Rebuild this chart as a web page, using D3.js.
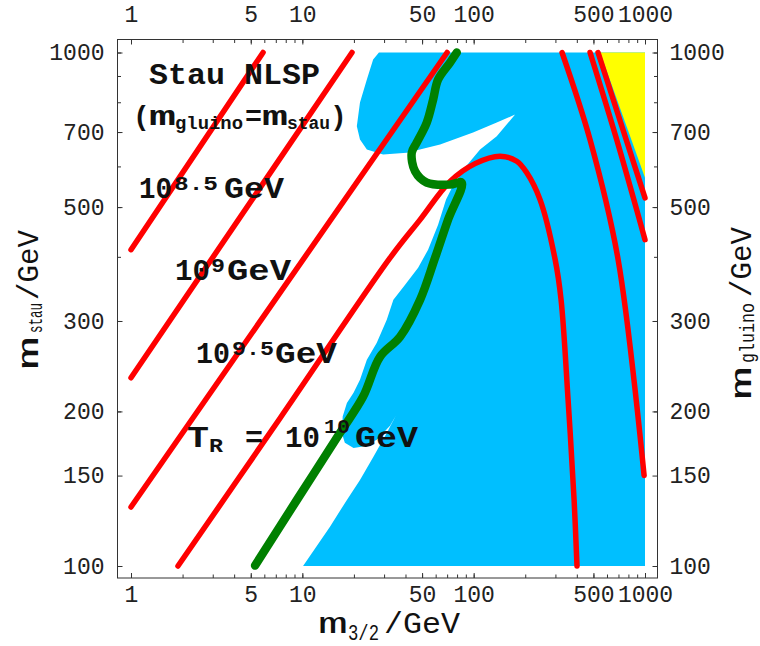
<!DOCTYPE html>
<html>
<head>
<meta charset="utf-8">
<script src="https://cdn.jsdelivr.net/npm/d3@7/dist/d3.min.js"></script>
<style>
body{margin:0;background:#fff;}
text{font-family:"Liberation Mono","Courier New",monospace;fill:#111;}
</style>
</head>
<body>
<script>
// tick labels
var xLabels = [1,5,10,50,100,500,1000];
var yLabels = [100,150,200,300,500,700,1000];

// shaded (cyan) region, [m3/2, mstau] in GeV
var cyanRegion = [
	[28.0,1000],[1000,1000],[1000,100],[10.1,100],
	[14.5,119.3],[18.2,134.5],[21.7,147.1],[26.0,163.3],[31.1,181.6],[35.1,196.1],
	[32.5,187.5],[27.2,176.1],[22.6,170.8],[19.9,169.8],[17.7,173.7],[17.0,181.6],
	[17.2,195.4],[18.2,207.8],[19.9,217.4],[21.7,230.5],[23.8,252.1],[27.2,272.1],
	[31.1,301.8],[34.0,330.1],[39.8,353],[47.4,381],[54.2,413],[62.0,462],[69.0,517],
	[74.8,545.7],[87.1,591.5],[109,647],[136.4,686.9],[174.5,757],
	[136.4,730.4],[99.2,698.3],[63.7,661.7],[40.7,637.6],[29.6,632.6],[23.8,647],
	[21.7,676.8],[20.8,718.3],[21.7,798.8],[23.8,886],[25.9,969]
];
// yellow corner
var yellowRegion = [[547,1000],[1000,1000],[1000,570]];

// reheating temperature contours (red)
var tr85 = [[1,413],[5.9,1000]];
var tr9 = [[1,232.6],[19.5,1000]];
var tr95 = [[1,130.3],[70,1000]];
var tr10 = [[1.88,100],[7.41,194],[32.5,398],[48.7,472.6],[72.8,561],[101.9,607.5],
	[142.6,628],[178.5,614],[204.2,583],[244,517],[299,395],[323.7,330],[355.7,210.7],
	[385.6,134.5],[401,100]];
var trR1 = [[328,1000],[478,676],[697,395],[988,150]];
var trR2 = [[478,1000],[684,676],[1000,432]];
var trR3 = [[532,1000],[1000,521]];

// green boundary
var greenLine = [[5.30,100.2],[9.30,134.5],[16.6,181.7],[22.6,213.5],[28.4,255.5],
	[37.2,279.5],[48.7,330],[59.5,398],[70.9,472.6],[85.2,558],[72.8,553],[53.2,558],
	[45.5,587],[43.5,638],[46.5,667.6],[53.2,730],[58.0,809.8],[62.0,886],[72.8,956],[79.7,1000]];

var svg = d3.select("body").append("svg")
	.attr("width",760)
	.attr("height",646);

var x = d3.scaleLog().domain([1,1000]).range([131,645]);
var y = d3.scaleLog().domain([100,1000]).range([566,52.5]);

var line = d3.line()
	.x(function(d){return x(d[0]);})
	.y(function(d){return y(d[1]);});
var smooth = d3.line()
	.x(function(d){return x(d[0]);})
	.y(function(d){return y(d[1]);})
	.curve(d3.curveCatmullRom.alpha(0.5));

svg.append("path").attr("d",line(cyanRegion)+"Z").attr("fill","#00bfff");
svg.append("path").attr("d",line(yellowRegion)+"Z").attr("fill","#ffff00");

[tr85,tr9,tr95,tr10,trR1,trR2,trR3].forEach(function(c){
	svg.append("path")
		.attr("d",smooth(c))
		.attr("fill","none")
		.attr("stroke","#ff0000")
		.attr("stroke-width",5.5)
		.attr("stroke-linecap","round")
		.attr("stroke-linejoin","round");
});

svg.append("path")
	.attr("d",smooth(greenLine))
	.attr("fill","none")
	.attr("stroke","#008000")
	.attr("stroke-width",8.5)
	.attr("stroke-linecap","round")
	.attr("stroke-linejoin","round");

// frame
svg.append("rect")
	.attr("x",117.5).attr("y",39.5)
	.attr("width",540).attr("height",538.5)
	.attr("fill","none").attr("stroke","#333");

var fmt = d3.format("d");
function styleAxis(g){
	g.select(".domain").remove();
	g.selectAll("line").attr("stroke","#333");
	g.selectAll("text").style("fill","#222");
	g.attr("font-family",null).attr("font-size",23);
}

// minor ticks
var minorX = x.ticks(), minorY = y.ticks();
var pos = [
	[d3.axisBottom,"translate(0,578)",x,minorX],
	[d3.axisTop,"translate(0,39.5)",x,minorX],
	[d3.axisLeft,"translate(117.5,0)",y,minorY],
	[d3.axisRight,"translate(657.5,0)",y,minorY]
];
pos.forEach(function(p){
	svg.append("g").attr("transform",p[1])
		.call(p[0](p[2]).tickValues(p[3]).tickFormat("").tickSize(-3.5))
		.call(styleAxis);
});

svg.append("g").attr("transform","translate(0,578)")
	.call(d3.axisBottom(x).tickValues(xLabels).tickFormat(fmt).tickSize(-5).tickPadding(8))
	.call(styleAxis);
svg.append("g").attr("transform","translate(0,39.5)")
	.call(d3.axisTop(x).tickValues(xLabels).tickFormat(fmt).tickSize(-5).tickPadding(18))
	.call(styleAxis);
svg.append("g").attr("transform","translate(117.5,0)")
	.call(d3.axisLeft(y).tickValues(yLabels).tickFormat(fmt).tickSize(-5).tickPadding(13))
	.call(styleAxis);
svg.append("g").attr("transform","translate(657.5,0)")
	.call(d3.axisRight(y).tickValues(yLabels).tickFormat(fmt).tickSize(-5).tickPadding(12))
	.call(styleAxis);

// one piece of text, optionally stretched to a width
function seg(parent, x0, base, str, size, bold, len){
	var t = parent.append("text")
		.attr("x",x0).attr("y",base)
		.attr("font-size",size)
		.attr("font-weight",bold ? "bold" : "normal")
		.text(str);
	if(len) t.attr("textLength",len).attr("lengthAdjust","spacingAndGlyphs");
	return t;
}

// annotations
seg(svg,149,84,"Stau NLSP",30,true,171);

seg(svg,133,125,"(",28,true);
seg(svg,149,125,"m",28,true,27);
seg(svg,175,129,"gluino",19,true,68);
seg(svg,245,125,"=",28,true,17);
seg(svg,262,125,"m",28,true,26);
seg(svg,287,129,"stau",19,true,43);
seg(svg,330,125,")",28,true);

seg(svg,139,198,"10",30,true,33);
seg(svg,174,190,"8.5",21,true,44);
seg(svg,224,198,"GeV",30,true,60);

seg(svg,175,280,"10",30,true,35);
seg(svg,211,272,"9",21,true,14);
seg(svg,227,280,"GeV",30,true,64);

seg(svg,196,363,"10",30,true,34);
seg(svg,232,355,"9.5",21,true,42);
seg(svg,275,363,"GeV",30,true,62);

seg(svg,187,447,"T",30,true,22);
seg(svg,209,452,"R",21,true,14);
seg(svg,245,447,"=",30,true,18);
seg(svg,285,447,"10",30,true,35);
seg(svg,324,433,"10",21,true,26);
seg(svg,355,447,"GeV",30,true,63);

// axis titles
seg(svg,318,633,"m",30,false,30);
seg(svg,348,640,"3/2",22,false,31);
seg(svg,384,633,"/GeV",30,false,76);

var lt = svg.append("g").attr("transform","translate(38,370) rotate(-90)");
seg(lt,0,0,"m",30,false,34);
seg(lt,37,4,"stau",20,false,30);
seg(lt,70,0,"/GeV",30,false,70);

var rt = svg.append("g").attr("transform","translate(751,400) rotate(-90)");
seg(rt,0,0,"m",30,false,34);
seg(rt,37,3,"gluino",20,false,60);
seg(rt,103,0,"/GeV",30,false,70);
</script>
</body>
</html>
